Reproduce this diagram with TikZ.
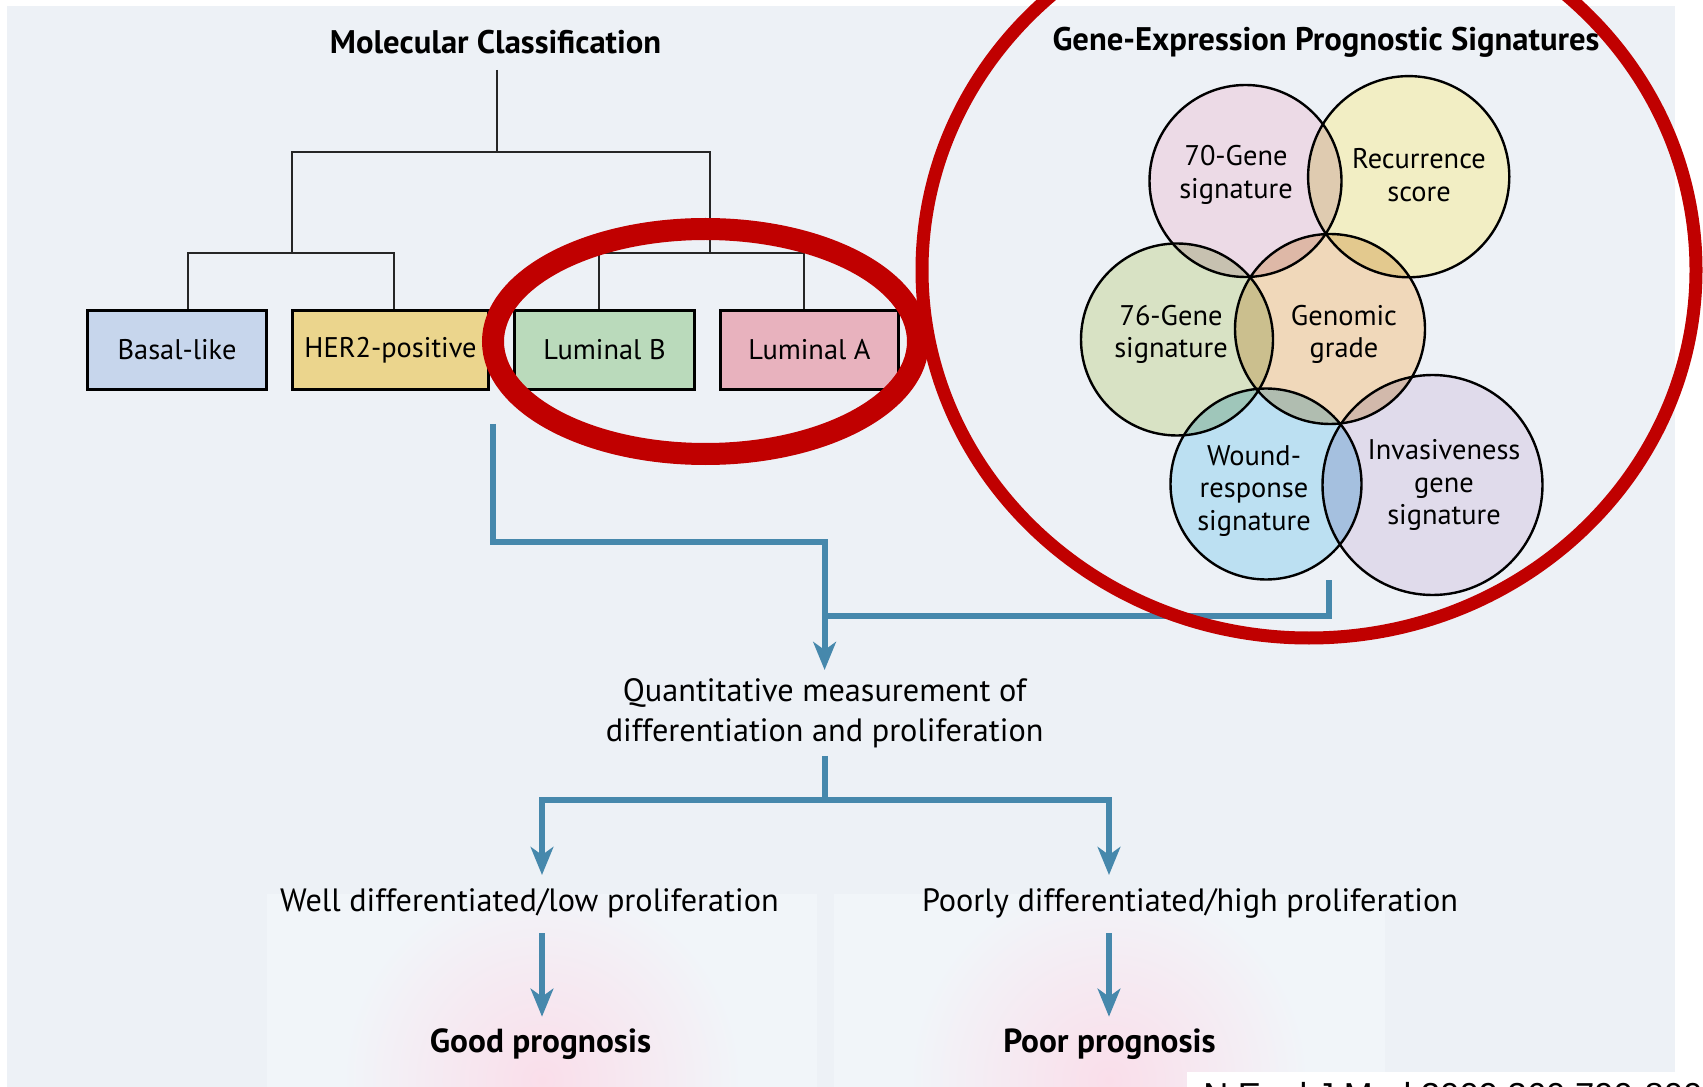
\documentclass[tikz,border=0pt]{standalone}
\usepackage{fontspec}
\setmainfont{PT Sans}
\newfontfamily\citefont{Liberation Sans}
\usetikzlibrary{arrows.meta}

\definecolor{bgcol}{RGB}{237,241,246}
\definecolor{panelcol}{RGB}{241,245,249}
\definecolor{glowcol}{RGB}{250,222,234}
\definecolor{flowcol}{RGB}{70,136,172}
\definecolor{ringcol}{RGB}{192,0,0}
\definecolor{basalcol}{RGB}{199,214,236}
\definecolor{hercol}{RGB}{235,213,141}
\definecolor{lumbcol}{RGB}{186,218,187}
\definecolor{lumacol}{RGB}{232,178,190}
\definecolor{g70col}{RGB}{236,218,230}
\definecolor{reccol}{RGB}{242,238,196}
\definecolor{g76col}{RGB}{216,226,196}
\definecolor{gradecol}{RGB}{240,216,186}
\definecolor{woundcol}{RGB}{188,224,242}
\definecolor{invcol}{RGB}{224,219,235}

\begin{document}
\begin{tikzpicture}[x=0.75pt,y=0.75pt,yscale=-1,xscale=1,
  heading/.style={font=\bfseries\fontsize{24.5}{28}\selectfont, inner sep=0pt},
  subtype/.style={draw=black, line width=2.2pt, minimum width=#1, minimum height=59.25pt, inner sep=0pt, font=\fontsize{21.3}{25}\selectfont},
  tree/.style={line width=1.5pt, draw=black!85},
  sigline/.style={draw=black, line width=1.8pt},
  sigtext/.style={align=center, inner sep=0pt, font=\fontsize{21.3}{24.5}\selectfont},
  flow/.style={line width=4.5pt, draw=flowcol},
  flowarrow/.style={flow, -{Stealth[length=21pt, width=17pt, inset=6pt]}},
  flowtext/.style={align=center, font=\fontsize{24.2}{30}\selectfont},
  outcome/.style={font=\bfseries\fontsize{25}{28}\selectfont, inner sep=0pt},
  ring/.style={draw=ringcol}]
\useasboundingbox (0,0) rectangle (1703,1087);

%Shape: Rectangle (background)
\fill[white] (0,0) rectangle (1703,1087);
\fill[bgcol] (7,6) rectangle (1675,1087);
\fill[panelcol] (267,894) rectangle (817,1087);
\fill[panelcol] (834,894) rectangle (1385,1087);
\begin{scope}
  \clip (267,894) rectangle (817,1087);
  \shade[inner color=glowcol, outer color=panelcol] (542,1080) circle [radius=200];
\end{scope}
\begin{scope}
  \clip (834,894) rectangle (1385,1087);
  \shade[inner color=glowcol, outer color=panelcol] (1109,1080) circle [radius=200];
\end{scope}
\fill[white] (1187,1072) rectangle (1703,1087);

% Text Node
\node[heading] (mc) at (495.6,42) {Molecular Classification};
% Text Node
\node[heading] (gep) at (1326,42) {Gene-Expression Prognostic Signatures};

%Shape: Rectangle
\node[subtype=134pt, fill=basalcol] (basal) at (177,350) {Basal-like};
\node[subtype=147pt, fill=hercol] (her2) at (390.5,350) {HER2-positive};
\node[subtype=135pt, fill=lumbcol] (lumb) at (604.5,350) {Luminal B};
\node[subtype=133.5pt, fill=lumacol] (luma) at (809.5,350) {Luminal A};

%Straight Lines
\coordinate (root) at (496.6,70);
\coordinate (top) at (496.6,152);
\coordinate (lsplit) at (291.6,253);
\coordinate (rsplit) at (710,253);
\draw[tree] (root) -- (top);
\draw[tree] (lsplit) |- (top) -| (rsplit);
\draw[tree] ([xshift=8.25pt]basal.north) |- (lsplit) -| ([xshift=2.6pt]her2.north);
\draw[tree] ([xshift=-4.1pt]lumb.north) |- (rsplit) -| ([xshift=-4.1pt]luma.north);

%Shape: Circle
\fill[white] (1245.5,181) circle [radius=96];
\fill[white] (1408.7,176.7) circle [radius=100.6];
\fill[white] (1177,339.5) circle [radius=96];
\fill[white] (1330,329) circle [radius=95];
\fill[white] (1266,484) circle [radius=95.5];
\fill[white] (1432.5,485) circle [radius=110];
\begin{scope}[blend mode=multiply]
\fill[g70col] (1245.5,181) circle [radius=96];
\fill[reccol] (1408.7,176.7) circle [radius=100.6];
\fill[g76col] (1177,339.5) circle [radius=96];
\fill[gradecol] (1330,329) circle [radius=95];
\fill[woundcol] (1266,484) circle [radius=95.5];
\fill[invcol] (1432.5,485) circle [radius=110];
\end{scope}
\draw[sigline] (1245.5,181) circle [radius=96];
\draw[sigline] (1408.7,176.7) circle [radius=100.6];
\draw[sigline] (1177,339.5) circle [radius=96];
\draw[sigline] (1330,329) circle [radius=95];
\draw[sigline] (1266,484) circle [radius=95.5];
\draw[sigline] (1432.5,485) circle [radius=110];

% Text Node
\node[sigtext] (g70) at (1236,175) {70-Gene\\signature};
\node[sigtext] (rec) at (1419,175) {Recurrence\\score};
\node[sigtext] (g76) at (1171,334.5) {76-Gene\\signature};
\node[sigtext] (grade) at (1344,334.5) {Genomic\\grade};
\node[sigtext] (wound) at (1254,491) {Wound-\\response\\signature};
\node[sigtext] (inv) at (1444,485) {Invasiveness\\gene\\signature};

%Straight Lines (flow)
\coordinate (mcout) at (493.3,424);
\coordinate (merge) at (824.6,541.7);
\coordinate (gepout) at (1328.8,580);
\coordinate (join) at (824.6,616);
\node[flowtext, inner sep=6pt, anchor=north] (quant) at (824.6,670) {Quantitative measurement of\\differentiation and proliferation};
\draw[flowarrow] (mcout) |- (merge) -- (quant.north);
\draw[flow] (gepout) |- (join);

\coordinate (split) at (824.6,800);
\coordinate (wellin) at (542,875);
\coordinate (poorin) at (1109,875);
\draw[flow] (quant.south) -- (split);
\draw[flowarrow] (split) -| (wellin);
\draw[flowarrow] (split) -| (poorin);

% Text Node
\node[flowtext] (well) at (529.4,903) {Well differentiated/low proliferation};
\node[flowtext] (poor) at (1190,903) {Poorly differentiated/high proliferation};

\coordinate (wellout) at (542,933);
\coordinate (goodin) at (542,1016.7);
\coordinate (poorout) at (1109,933);
\coordinate (badin) at (1109,1016.7);
\draw[flowarrow] (wellout) -- (goodin);
\draw[flowarrow] (poorout) -- (badin);

% Text Node
\node[outcome] (good) at (540.5,1044) {Good prognosis};
\node[outcome] (bad) at (1109.5,1044) {Poor prognosis};

%Shape: Ellipse (highlight rings)
\draw[ring, line width=16.5pt] (705.5,341.5) ellipse [x radius=212.5, y radius=112.5];
\draw[ring, line width=9.75pt] (1309,270) ellipse [x radius=387, y radius=368];

% Text Node
\node[anchor=base west, inner sep=0pt, font=\citefont\fontsize{26}{30}\selectfont] (cite) at (1203,1107) {N Engl J Med 2009;360:790-800};

\end{tikzpicture}
\end{document}
